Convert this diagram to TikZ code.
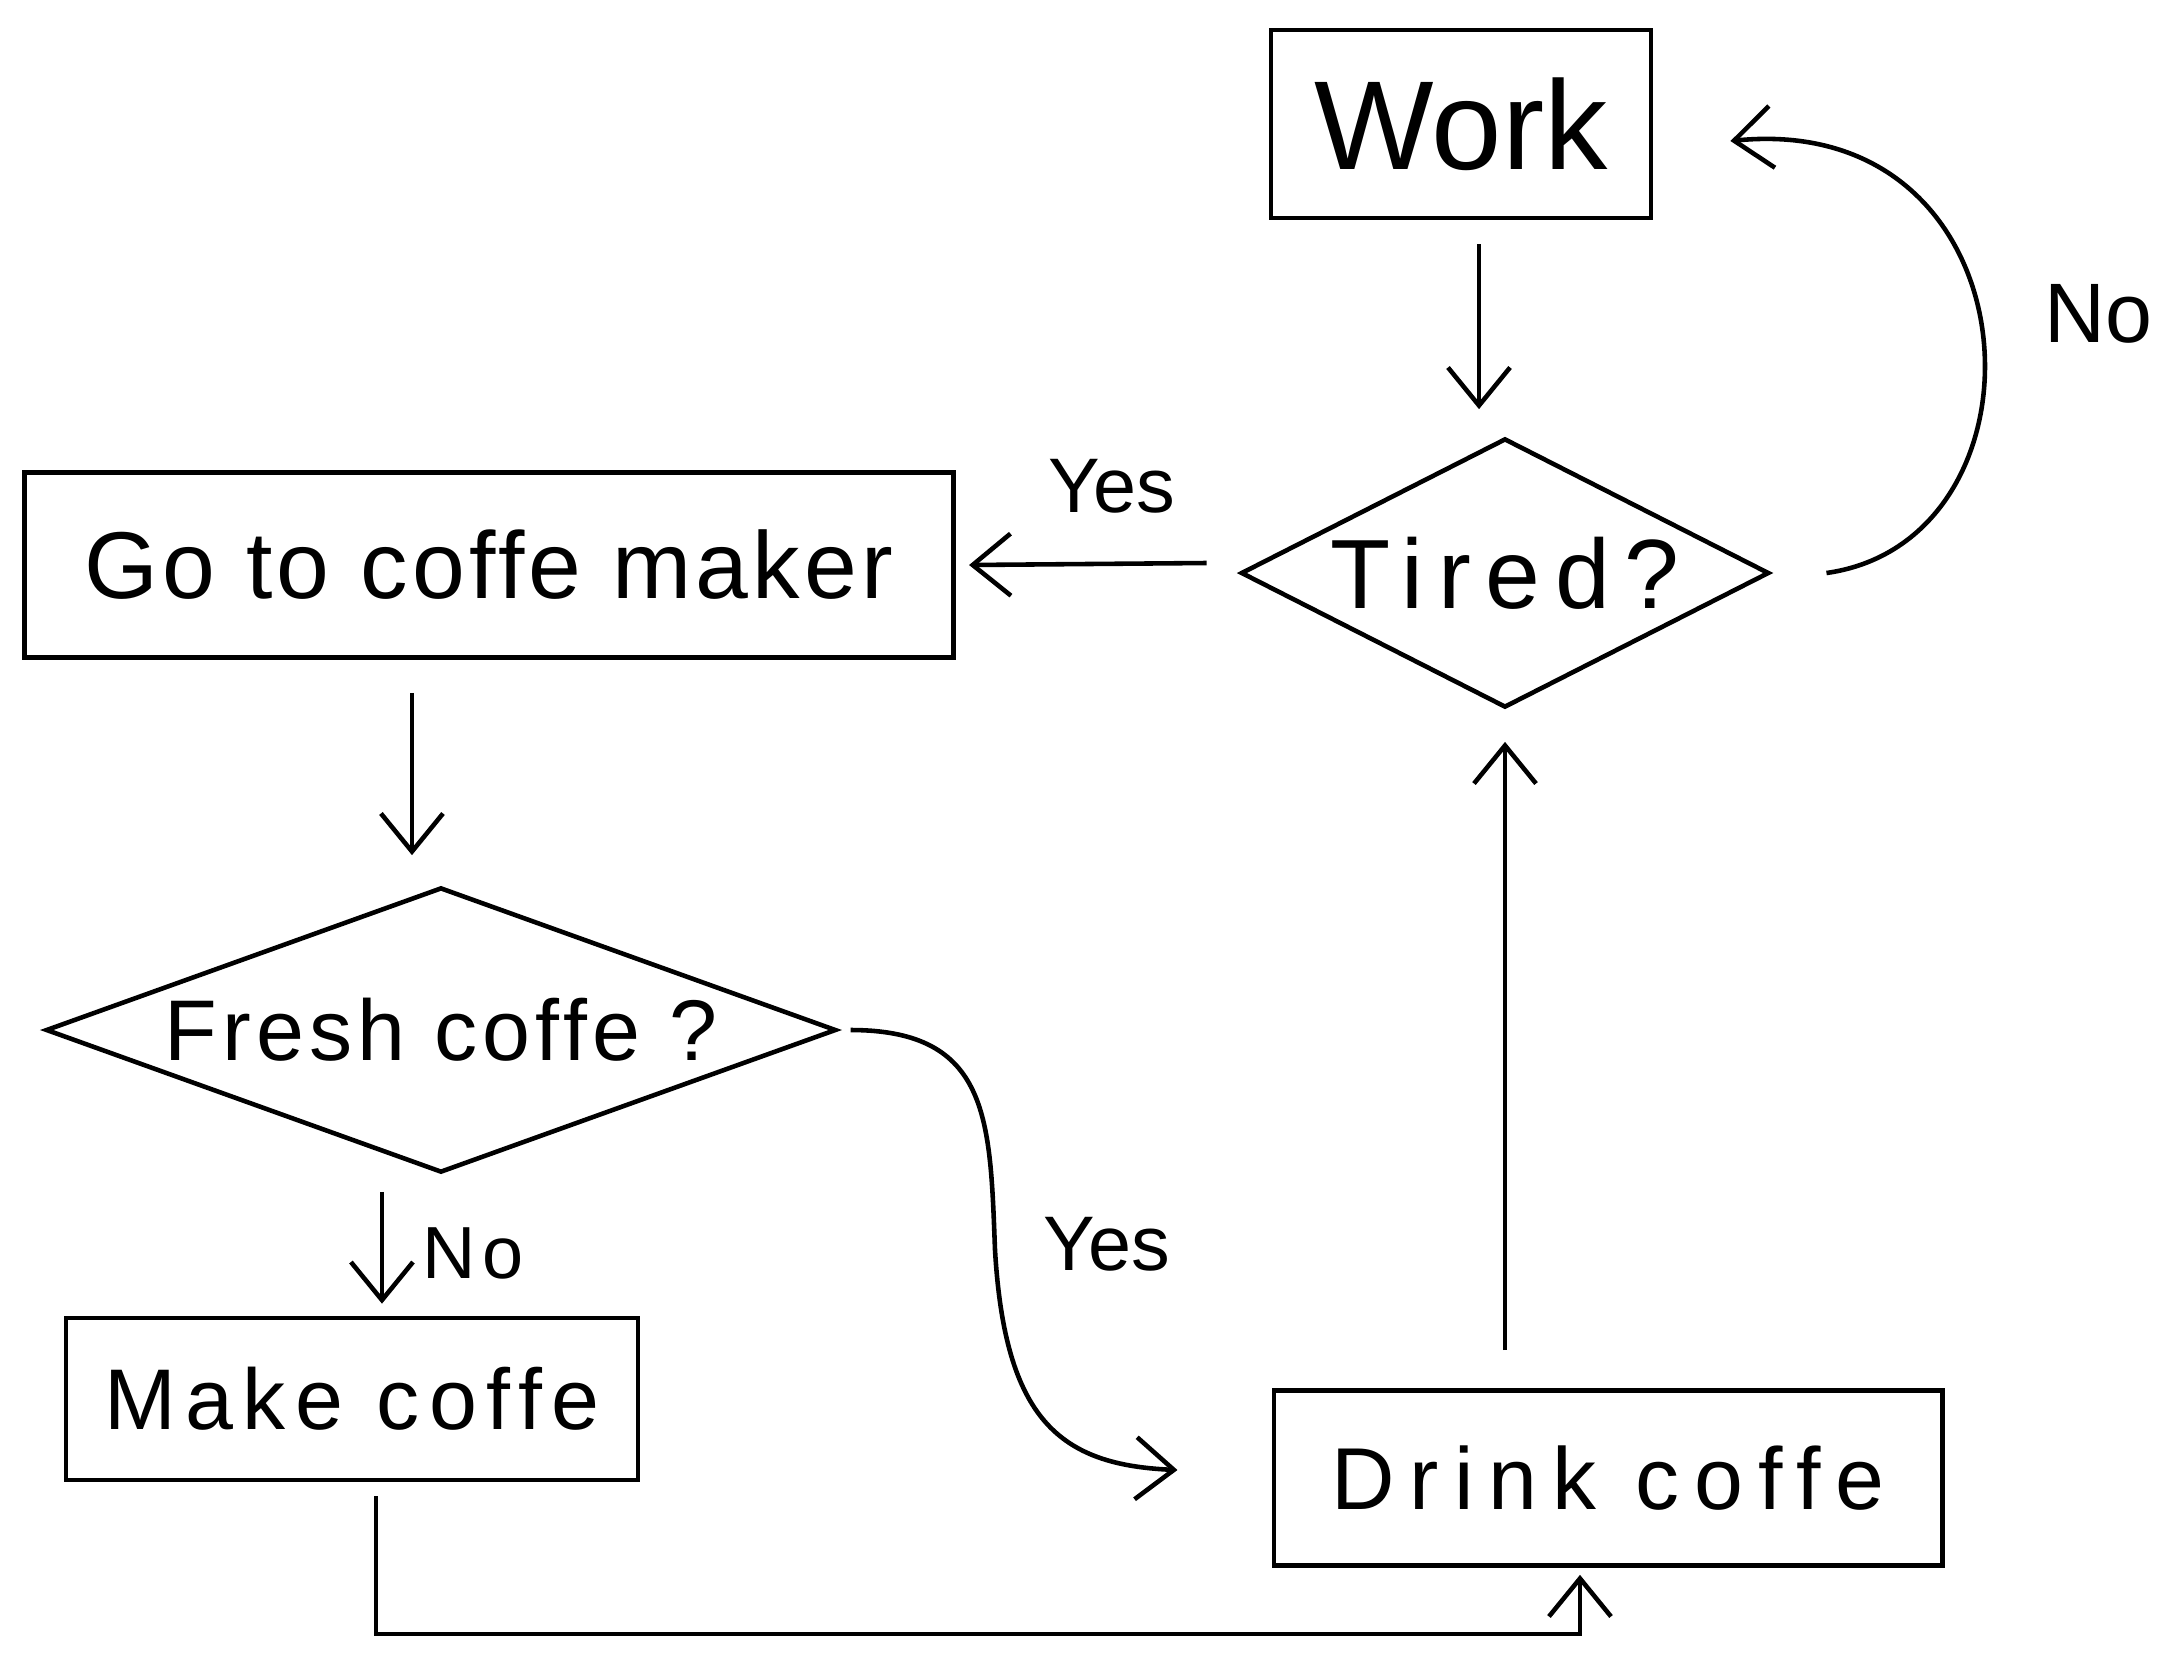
\documentclass[tikz,border=0pt]{standalone}
\usepackage{fontspec}
\setmainfont{Liberation Sans}
\usetikzlibrary{shapes.geometric,arrows.meta,calc}
\newcommand{\fs}[2]{\fontsize{#1}{#1}\selectfont\addfontfeatures{LetterSpace=#2}}
\begin{document}
\begin{tikzpicture}[x=0.01cm,y=-0.01cm,
  line width=1.3pt,
  box/.style={draw, rectangle, inner sep=0pt},
  dia/.style={draw, diamond, inner sep=0pt},
  arr/.style={-{Straight Barb[length=0.38cm,width=0.62cm]}},
  lbl/.style={inner sep=0pt}]
\useasboundingbox[fill=white] (0,0) rectangle (2167,1666);
% nodes
\node[box, minimum width=3.80cm, minimum height=1.88cm, font=\fs{36}{0}] (work) at (1461,124) {Work};
\node[dia, shape aspect=1.96, minimum width=5.28cm, minimum height=2.69cm, font=\fs{28}{15}] (tired) at (1505,573) {Tired?};
\node[box, minimum width=9.29cm, minimum height=1.85cm, font=\fs{27}{4.5}] (go) at (489,565) {Go to coffe maker};
\node[dia, shape aspect=2.77, minimum width=7.90cm, minimum height=2.85cm, font=\fs{24.5}{6}] (fresh) at (441,1030) {Fresh coffe ?};
\node[box, minimum width=5.72cm, minimum height=1.62cm, font=\fs{24.5}{11}] (make) at (352,1399) {Make coffe};
\node[box, minimum width=6.68cm, minimum height=1.75cm, font=\fs{25}{17}] (drink) at (1608,1478) {Drink coffe};
% labels
\node[lbl, font=\fs{22}{0}] (yes1) at (1112,486) {Yes};
\node[lbl, font=\fs{24}{0}] (no1) at (2098,314) {No};
\node[lbl, font=\fs{21}{8}] (no2) at (473,1253) {No};
\node[lbl, font=\fs{22}{0}] (yes2) at (1107,1244) {Yes};
% connectors
\draw[arr] ([xshift=0.18cm,yshift=-0.24cm]work.south) -- ([xshift=0.18cm,yshift=0.27cm]work.south |- tired.north);
\draw[arr] ([xshift=-0.32cm,yshift=0.1cm]tired.west) -- ([xshift=0.13cm]go.east);
\draw[arr] ([xshift=0.55cm]tired.east) .. controls (2060,540) and (2040,110) .. ([xshift=0.77cm,yshift=-0.17cm]work.east);
\draw[arr] ([xshift=-0.29cm,yshift=-0.33cm]fresh.north |- go.south) -- ([xshift=-0.29cm,yshift=0.30cm]fresh.north);
\draw[arr] ([xshift=-0.59cm,yshift=-0.17cm]fresh.south) -- ([xshift=-0.59cm,yshift=0.12cm]fresh.south |- make.north);
\draw[arr] ([xshift=0.12cm]fresh.east) .. controls (990,1030) and (990,1120) .. (995,1250)
  .. controls (1005,1420) and (1060,1465) .. ([xshift=-0.94cm,yshift=0.08cm]drink.west);
\draw[arr] ([xshift=0.24cm,yshift=-0.14cm]make.south) |- ([xshift=-0.28cm,yshift=-0.66cm]drink.south) -- ([xshift=-0.28cm,yshift=-0.07cm]drink.south);
\draw[arr] ([yshift=0.38cm]tired.south |- drink.north) -- ([yshift=-0.32cm]tired.south);
\end{tikzpicture}
\end{document}
